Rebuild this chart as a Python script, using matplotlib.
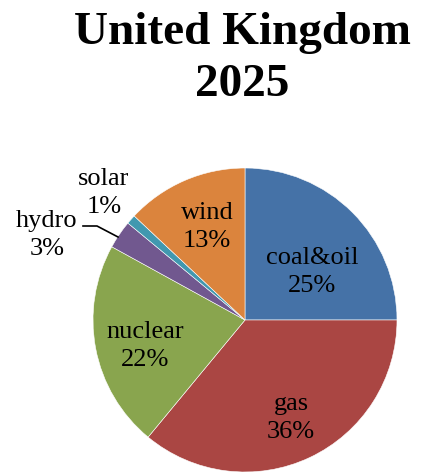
import matplotlib
matplotlib.use("Agg")
import matplotlib.pyplot as plt

categories = ["coal&oil", "gas", "nuclear", "hydro", "solar", "wind"]
values = [25, 36, 22, 3, 1, 13]
colors = ["#4572A7", "#AA4643", "#89A54E", "#71588F", "#4198AF", "#DB843D"]
title = "United Kingdom\n2025"

plt.rcParams['font.family'] = ['Liberation Serif', 'DejaVu Serif']

W, H = 424, 472
fig = plt.figure(figsize=(W / 100, H / 100), dpi=100)
ax = fig.add_axes([0, 0, 1, 1])
ax.set_xlim(0, W)
ax.set_ylim(0, H)
ax.set_aspect('equal')
ax.axis('off')

cx, cy, r = 245, H - 320, 152
ax.pie(values, colors=colors, startangle=90, counterclock=False,
       center=(cx, cy), radius=r, frame=True,
       wedgeprops=dict(linewidth=0.4, edgecolor='white'))
ax.set_xlim(0, W)
ax.set_ylim(0, H)
ax.axis('off')

# label positions in pixel coordinates (x, y from top)
label_pos = {
    "coal&oil": (312, 272),
    "gas": (291, 418),
    "nuclear": (145, 346),
    "hydro": (47, 235),
    "solar": (104, 193),
    "wind": (207, 227),
}
for cat, v in zip(categories, values):
    x, y = label_pos[cat]
    ax.text(x, H - y, f"{cat}\n{v}%", ha='center', va='center', fontsize=19,
            linespacing=1.3, color='black')

# leader line for hydro
ax.plot([83, 97, 118], [H - 226, H - 226, H - 237], color='black', lw=1.2)

fig.text(242 / W, 1 - 59 / H, title, ha='center', va='center', fontsize=34,
         fontweight='bold', linespacing=1.32)

fig.savefig("out.png", dpi=100)
